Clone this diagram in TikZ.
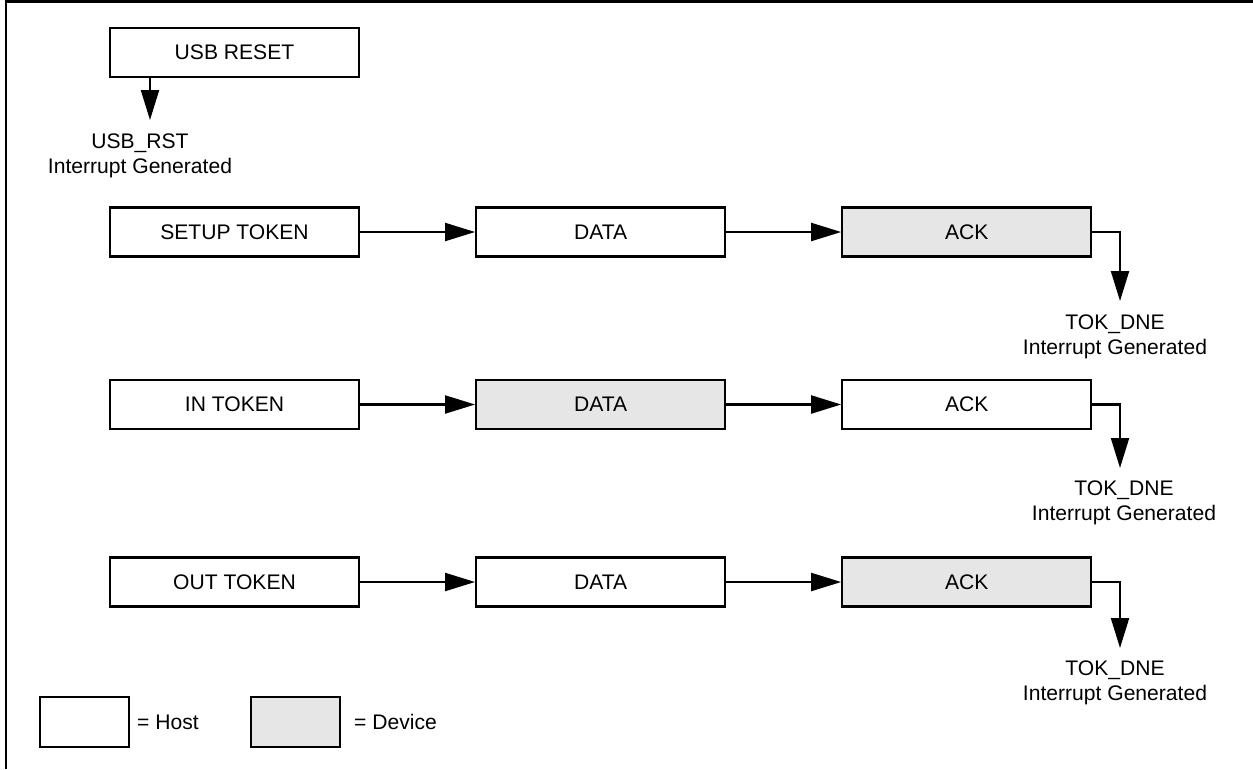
\documentclass[tikz,border=0pt]{standalone}
\usepackage{fontspec}
\setmainfont{Liberation Sans}
\usepackage{tikz}
\usetikzlibrary{arrows.meta,positioning,calc}
\usepackage{xcolor}
\definecolor{devgray}{RGB}{230,230,230}

\begin{document}
\begin{tikzpicture}[
    node distance=2.3cm,
    host/.style={draw, line width=1.2pt, minimum width=4.98cm, minimum height=0.98cm, inner sep=0pt, font=\fontsize{12}{14.2}\selectfont},
    device/.style={host, fill=devgray},
    irq/.style={align=center, inner sep=0.28cm, font=\fontsize{12}{14.2}\selectfont},
    flow/.style={-{Triangle[length=0.6cm, width=0.36cm]}, line width=1.2pt}
]
\useasboundingbox (0,0) rectangle (25.06,-15.38);

% frame
\draw[line width=1.4pt] (0.12,-15.38) -- (0.12,-0.03) -- (25.06,-0.03);

% USB RESET
\node[host] (reset) at (4.69,-1.05) {USB RESET};
\node[irq] (rst) at (2.8,-3.12) {USB\_RST\\Interrupt Generated};
\coordinate (rsttip) at (3.0,-2.4);
\draw[flow] (reset.south -| rsttip) -- (rsttip);

% SETUP TRANSACTION
\node[host] (setup) at (4.69,-4.64) {SETUP TOKEN};
\node[host, right=of setup] (data1) {DATA};
\node[device, right=of data1] (ack1) {ACK};
\node[irq] (dne1) at (22.3,-6.74) {TOK\_DNE\\Interrupt Generated};
\coordinate (tip1) at (22.4,-6.02);
\draw[flow] (setup) -- (data1);
\draw[flow] (data1) -- (ack1);
\draw[flow] (ack1.east) -| (tip1);

% IN TRANSACTION
\node[host] (in) at (4.69,-8.09) {IN TOKEN};
\node[device, right=of in] (data2) {DATA};
\node[host, right=of data2] (ack2) {ACK};
\node[irq] (dne2) at (22.48,-10.06) {TOK\_DNE\\Interrupt Generated};
\coordinate (tip2) at (22.4,-9.36);
\draw[flow] (in) -- (data2);
\draw[flow] (data2) -- (ack2);
\draw[flow] (ack2.east) -| (tip2);

% OUT TRANSACTION
\node[host] (out) at (4.69,-11.64) {OUT TOKEN};
\node[host, right=of out] (data3) {DATA};
\node[device, right=of data3] (ack3) {ACK};
\node[irq] (dne3) at (22.3,-13.66) {TOK\_DNE\\Interrupt Generated};
\coordinate (tip3) at (22.4,-12.96);
\draw[flow] (out) -- (data3);
\draw[flow] (data3) -- (ack3);
\draw[flow] (ack3.east) -| (tip3);

% Legend
\node[host, minimum width=1.78cm, minimum height=1.0cm] (lhost) at (1.69,-14.44) {};
\node[anchor=west, font=\fontsize{12}{14.2}\selectfont] (thost) at (2.62,-14.44) {= Host};
\node[device, minimum width=1.78cm, minimum height=1.0cm] (ldev) at (5.91,-14.44) {};
\node[anchor=west, font=\fontsize{12}{14.2}\selectfont] (tdev) at (6.96,-14.44) {= Device};

\end{tikzpicture}
\end{document}
